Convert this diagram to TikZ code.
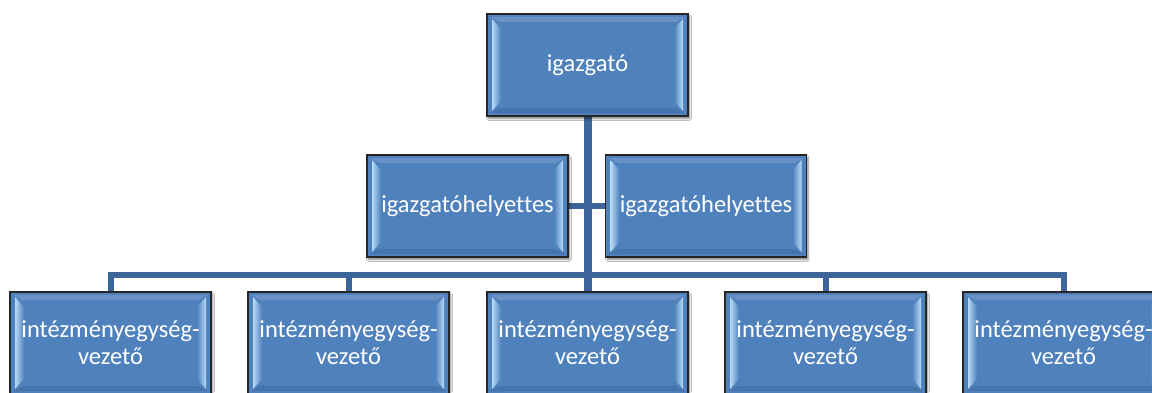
\documentclass[tikz,border=0pt]{standalone}
\usepackage{fontspec}
\setmainfont{Carlito}[Ligatures=NoCommon]
\usetikzlibrary{shadows.blur,backgrounds}
\definecolor{boxblue}{HTML}{4F81BD}
\definecolor{bevel}{HTML}{B8DAF7}
\definecolor{linkblue}{HTML}{3D659A}
\tikzset{
  unit/.style={
    draw=black!85, line width=1.3pt, fill=boxblue,
    minimum width=201pt, minimum height=102pt, inner sep=0pt,
    blur shadow={shadow xshift=1.5pt, shadow yshift=-2.5pt, shadow blur steps=6, shadow opacity=50}
  },
  label/.style={text=white, align=center, inner sep=0pt,
    font=\fontsize{24.5pt}{27pt}\selectfont},
  link/.style={draw=linkblue, line width=6pt},
  trunk/.style={draw=linkblue, line width=8pt}
}
% bevelled inner edges of a 201 x 102 box, drawn around its centre
\newcommand{\bevelbox}[1]{%
  \begin{scope}[shift={(#1.center)}]
    \fill[white, opacity=0.15] (-97.5,48) -- (97.5,48) -- (88,43) -- (-88,43) -- cycle;
    \fill[black, opacity=0.10] (-97.5,-48) -- (97.5,-48) -- (88,-43) -- (-88,-43) -- cycle;
    \shade[left color=bevel, right color=boxblue]
      (-95.5,-46) -- (-95.5,46) -- (-86.5,36) -- (-86.5,-36) -- cycle;
    \shade[left color=boxblue, right color=bevel]
      (95.5,-46) -- (95.5,46) -- (86.5,36) -- (86.5,-36) -- cycle;
  \end{scope}%
}
\begin{document}
\begin{tikzpicture}[x=1pt,y=1pt]
  \clip (0,0) rectangle (1152,392);

  % boxes
  \node[unit] (dir) at (587.5,327) {};
  \node[unit] (dep1) at (467.5,186) {};
  \node[unit] (dep2) at (706,186) {};
  \node[unit] (u1) at (110.5,49) {};
  \node[unit] (u2) at (348.5,49) {};
  \node[unit] (u3) at (587.5,49) {};
  \node[unit] (u4) at (825.5,49) {};
  \node[unit] (u5) at (1063.5,49) {};
  \foreach \b in {dir,dep1,dep2,u1,u2,u3,u4,u5} {\bevelbox{\b}}

  % titles on top of the bevels
  \node[label] (dir-t) at (dir) {igazgató};
  \node[label] (dep1-t) at (dep1) {igazgatóhelyettes};
  \node[label] (dep2-t) at (dep2) {igazgatóhelyettes};
  \foreach \b in {u1,u2,u3,u4,u5}
    \node[label] (\b-t) at (\b) {intézményegység-\\vezető};

  % connectors behind the boxes
  \coordinate (bus) at (587.5,117);
  \begin{scope}[on background layer]
    \fill[white] (0,0) rectangle (1152,392);
    \draw[link] (u1.north) |- (bus) -| (u5.north);
    \draw[link] (u2.north) -- (u2.north |- bus);
    \draw[link] (u4.north) -- (u4.north |- bus);
    \draw[link] (dep1.east) -- (dep2.west);
    \draw[trunk] (dir.south) -- (u3.north);
  \end{scope}
\end{tikzpicture}
\end{document}
